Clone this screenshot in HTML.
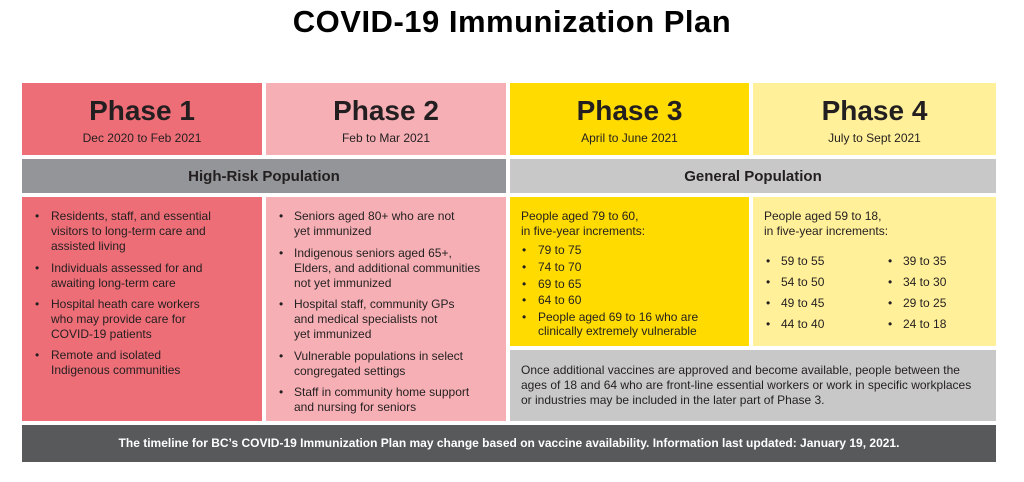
<!DOCTYPE html>
<html><head><meta charset="utf-8"><style>
*{margin:0;padding:0;box-sizing:border-box}
body{width:1024px;height:482px;background:#fff;position:relative;font-family:"Liberation Sans",sans-serif;color:#231f20;overflow:hidden}
.a{position:absolute}
.box{position:absolute}
.ph{position:absolute;left:0;right:0;text-align:center;font-weight:bold;font-size:28px;top:94px;line-height:34px}
.dt{position:absolute;left:0;right:0;text-align:center;font-size:12px;top:131px;line-height:15px}
.t{position:absolute;font-size:12px;line-height:15px;white-space:nowrap}
.b{position:absolute;font-size:12px;line-height:15px}
</style></head><body>
<div class="a" style="left:0;right:0;top:3px;text-align:center;font-size:31px;font-weight:bold;line-height:38px;color:#000;letter-spacing:0.5px">COVID-19 Immunization Plan</div>

<div class="box" style="left:22px;top:83px;width:240px;height:72px;background:#ee6e77"></div>
<div class="box" style="left:266px;top:83px;width:240px;height:72px;background:#f6b0b5"></div>
<div class="box" style="left:510px;top:83px;width:239px;height:72px;background:#ffdb00"></div>
<div class="box" style="left:753px;top:83px;width:243px;height:72px;background:#fff099"></div>
<div class="a" style="left:22px;width:240px;top:0"><div class="ph">Phase 1</div><div class="dt">Dec 2020 to Feb 2021</div></div>
<div class="a" style="left:266px;width:240px;top:0"><div class="ph">Phase 2</div><div class="dt">Feb to Mar 2021</div></div>
<div class="a" style="left:510px;width:239px;top:0"><div class="ph">Phase 3</div><div class="dt">April to June 2021</div></div>
<div class="a" style="left:753px;width:243px;top:0"><div class="ph">Phase 4</div><div class="dt">July to Sept 2021</div></div>

<div class="box" style="left:22px;top:159px;width:484px;height:34px;background:#939598;text-align:center;font-weight:bold;font-size:15px;line-height:36px">High-Risk Population</div>
<div class="box" style="left:510px;top:159px;width:486px;height:34px;background:#c8c8c9;text-align:center;font-weight:bold;font-size:15px;line-height:36px">General Population</div>

<div class="box" style="left:22px;top:197px;width:240px;height:224px;background:#ee6e77"></div>
<div class="box" style="left:266px;top:197px;width:240px;height:224px;background:#f6b0b5"></div>
<div class="box" style="left:510px;top:197px;width:239px;height:149px;background:#ffdb00"></div>
<div class="box" style="left:753px;top:197px;width:243px;height:149px;background:#fff099"></div>
<div class="box" style="left:510px;top:350px;width:486px;height:71px;background:#c8c8c9"></div>

<div class="b" style="left:35px;top:209px">•</div><div class="t" style="left:51px;top:209px">Residents, staff, and essential<br>visitors to long-term care and<br>assisted living</div>
<div class="b" style="left:35px;top:261px">•</div><div class="t" style="left:51px;top:261px">Individuals assessed for and<br>awaiting long-term care</div>
<div class="b" style="left:35px;top:297px">•</div><div class="t" style="left:51px;top:297px">Hospital heath care workers<br>who may provide care for<br>COVID-19 patients</div>
<div class="b" style="left:35px;top:348px">•</div><div class="t" style="left:51px;top:348px">Remote and isolated<br>Indigenous communities</div>

<div class="b" style="left:279px;top:209px">•</div><div class="t" style="left:294px;top:209px">Seniors aged 80+ who are not<br>yet immunized</div>
<div class="b" style="left:279px;top:246px">•</div><div class="t" style="left:294px;top:246px">Indigenous seniors aged 65+,<br>Elders, and additional communities<br>not yet immunized</div>
<div class="b" style="left:279px;top:297px">•</div><div class="t" style="left:294px;top:297px">Hospital staff, community GPs<br>and medical specialists not<br>yet immunized</div>
<div class="b" style="left:279px;top:349px">•</div><div class="t" style="left:294px;top:349px">Vulnerable populations in select<br>congregated settings</div>
<div class="b" style="left:279px;top:385px">•</div><div class="t" style="left:294px;top:385px">Staff in community home support<br>and nursing for seniors</div>

<div class="t" style="left:521px;top:209px">People aged 79 to 60,<br>in five-year increments:</div>
<div class="b" style="left:522px;top:242px;line-height:16.8px">•<br>•<br>•<br>•<br>•</div>
<div class="t" style="left:538px;top:242px;line-height:16.8px">79 to 75<br>74 to 70<br>69 to 65<br>64 to 60<br>People aged 69 to 16 who are</div>
<div class="t" style="left:538px;top:324px">clinically extremely vulnerable</div>

<div class="t" style="left:764px;top:209px">People aged 59 to 18,<br>in five-year increments:</div>
<div class="b" style="left:766px;top:251px;line-height:21px">•<br>•<br>•<br>•</div>
<div class="t" style="left:781px;top:251px;line-height:21px">59 to 55<br>54 to 50<br>49 to 45<br>44 to 40</div>
<div class="b" style="left:888px;top:251px;line-height:21px">•<br>•<br>•<br>•</div>
<div class="t" style="left:903px;top:251px;line-height:21px">39 to 35<br>34 to 30<br>29 to 25<br>24 to 18</div>

<div class="t" style="left:521px;top:363px">Once additional vaccines are approved and become available, people between the<br>ages of 18 and 64 who are front-line essential workers or work in specific workplaces<br>or industries may be included in the later part of Phase 3.</div>

<div class="box" style="left:22px;top:425px;width:974px;height:37px;background:#58595b;color:#fff;text-align:center;font-weight:bold;font-size:12px;line-height:37px">The timeline for BC’s COVID-19 Immunization Plan may change based on vaccine availability. Information last updated: January 19, 2021.</div>
</body></html>
